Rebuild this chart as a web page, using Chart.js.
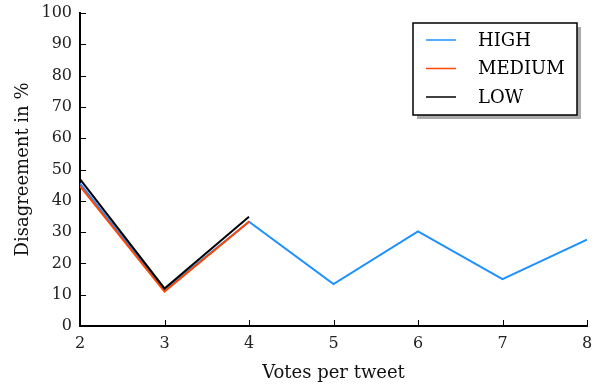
<!DOCTYPE html>
<html>
<head>
<meta charset="utf-8">
<script src="https://cdn.jsdelivr.net/npm/chart.js@4/dist/chart.umd.min.js"></script>
<style>
  html, body { margin: 0; padding: 0; background: #fff; }
  #wrap { width: 598px; height: 387px; }
</style>
</head>
<body>
<div id="wrap"><canvas id="myChart" width="598" height="387"></canvas></div>
<script>
// data
const votes = [2, 3, 4, 5, 6, 7, 8];
const high = [45.6, 11.5, 33.3, 13.4, 30.2, 15.0, 27.6];
const medium = [44.7, 11.0, 33.3];
const low = [46.9, 12.0, 34.9];
const yTicks = [0, 10, 20, 30, 40, 50, 60, 70, 80, 90, 100];

const FONT = "'DejaVu Serif', serif";

const toPoints = (vals) => vals.map((v, i) => ({x: votes[i], y: v}));

// draws inward tick marks + the framed legend with drop shadow
const extras = {
  id: 'extras',
  afterDraw(chart) {
    const ctx = chart.ctx;
    const xs = chart.scales.x, ys = chart.scales.y;
    const area = chart.chartArea;
    ctx.save();
    ctx.strokeStyle = '#000';
    ctx.lineWidth = 1;
    yTicks.forEach(t => {
      const py = Math.round(ys.getPixelForValue(t)) + 0.5;
      ctx.beginPath(); ctx.moveTo(area.left, py); ctx.lineTo(area.left + 6, py); ctx.stroke();
    });
    votes.forEach(t => {
      const px = Math.round(xs.getPixelForValue(t)) + 0.5;
      ctx.beginPath(); ctx.moveTo(px, area.bottom); ctx.lineTo(px, area.bottom - 6); ctx.stroke();
    });

    // legend
    const bx = 413, by = 23, bw = 164, bh = 92;
    ctx.fillStyle = '#aaa';
    ctx.fillRect(bx + 4, by + 4, bw, bh);
    ctx.fillStyle = '#fff';
    ctx.fillRect(bx, by, bw, bh);
    ctx.lineWidth = 1.5;
    ctx.strokeStyle = '#000';
    ctx.strokeRect(bx, by, bw, bh);
    ctx.font = '18px ' + FONT;
    ctx.textBaseline = 'middle';
    chart.data.datasets.forEach((ds, i) => {
      const ry = by + 17 + i * 28.5;
      ctx.strokeStyle = ds.borderColor;
      ctx.lineWidth = 1.5;
      ctx.beginPath(); ctx.moveTo(bx + 13, ry); ctx.lineTo(bx + 43, ry); ctx.stroke();
      ctx.fillStyle = '#000';
      ctx.fillText(ds.label, bx + 65, ry + 1);
    });
    ctx.restore();
  }
};

const data = {
  datasets: [
    { label: 'HIGH', data: toPoints(high), borderColor: '#1E90FF' },
    { label: 'MEDIUM', data: toPoints(medium), borderColor: '#FF4500' },
    { label: 'LOW', data: toPoints(low), borderColor: '#000000' }
  ]
};
data.datasets.forEach(ds => {
  ds.borderWidth = 2;
  ds.pointRadius = 0;
  ds.tension = 0;
  ds.fill = false;
});
data.datasets[0].order = 3;
data.datasets[1].order = 2;
data.datasets[2].order = 1;

const config = {
  type: 'line',
  data,
  options: {
    responsive: false,
    animation: false,
    layout: { padding: { left: 0, right: 11, top: 13, bottom: 0 } },
    plugins: { legend: { display: false }, tooltip: { enabled: false } },
    scales: {
      x: {
        type: 'linear',
        min: 2, max: 8,
        afterFit: (s) => { s.height = 61; s.paddingLeft = 0; s.paddingRight = 0; },
        afterBuildTicks: (s) => { s.ticks = votes.map(v => ({value: v})); },
        grid: { display: false, drawTicks: false },
        border: { display: true, color: '#000', width: 2 },
        ticks: { color: '#222', font: { family: FONT, size: 16 }, padding: 8, maxRotation: 0 },
        title: { display: true, text: 'Votes per tweet', color: '#111', font: { family: FONT, size: 18 }, padding: { top: 2, bottom: 3 } }
      },
      y: {
        min: 0, max: 100,
        afterFit: (s) => { s.width = 80; s.paddingTop = 0; s.paddingBottom = 0; },
        afterBuildTicks: (s) => { s.ticks = yTicks.map(v => ({value: v})); },
        grid: { display: false, drawTicks: false },
        border: { display: true, color: '#000', width: 2 },
        ticks: { color: '#222', font: { family: FONT, size: 16 }, padding: 8 },
        title: { display: true, text: 'Disagreement in %', color: '#111', font: { family: FONT, size: 18 }, padding: { top: 13, bottom: 0 } }
      }
    }
  },
  plugins: [extras]
};

const myChart = new Chart(document.getElementById('myChart'), config);
</script>
</body>
</html>
